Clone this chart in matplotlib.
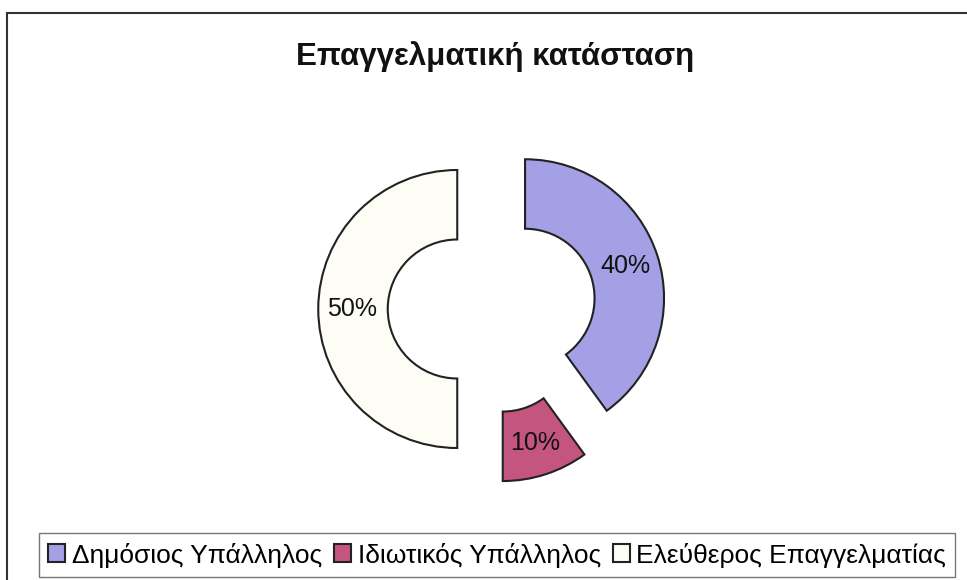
import matplotlib
matplotlib.use("Agg")
import matplotlib.pyplot as plt
from matplotlib.patches import Rectangle

categories = ["Δημόσιος Υπάλληλος", "Ιδιωτικός Υπάλληλος", "Ελεύθερος Επαγγελματίας"]
shares = [40, 10, 50]
colors = ["#A3A0E6", "#C4557E", "#FDFDF6"]
title = "Επαγγελματική κατάσταση"

plt.rcParams['font.family'] = ['Liberation Sans', 'DejaVu Sans']

W, H = 967, 580
fig = plt.figure(figsize=(W / 100, H / 100), dpi=100)
fig.patch.set_facecolor("white")

# outer chart frame (right/bottom edges fall off the picture)
fig.patches.append(Rectangle((7 / W, -0.05), 1.1, 1 - 13 / H + 0.05,
                             transform=fig.transFigure, fill=False,
                             edgecolor="#333333", linewidth=1.5))

# donut: center ~ (492, 309) px, radius ~139 px
r = 139
half = 1.5 * r
cx, cy = 492, 309
ax = fig.add_axes([(cx - half) / W, (H - cy - half) / H, 2 * half / W, 2 * half / H])
wedges, texts, autotexts = ax.pie(
    shares, colors=colors, startangle=90, counterclock=False,
    explode=[0.25, 0.25, 0.25], autopct="%d%%", pctdistance=0.76,
    wedgeprops=dict(width=0.5, edgecolor="#222222", linewidth=1.5),
    textprops=dict(fontsize=18, color="#111111"))
ax.set_xlim(-1.5, 1.5)
ax.set_ylim(-1.5, 1.5)
ax.set_aspect("equal")
ax.axis("off")

fig.text(495 / W, 1 - 57 / H, title, ha="center", va="center",
         fontsize=22.5, fontweight="bold", color="#111111")

leg = fig.legend(wedges, categories, loc="center", ncol=3,
                 bbox_to_anchor=(497 / W, 1 - 555 / H), fontsize=19,
                 frameon=True, fancybox=False, edgecolor="#555555",
                 handlelength=0.65, handleheight=0.65, handletextpad=0.25,
                 columnspacing=0.45, borderpad=0.35, borderaxespad=0)
leg.get_frame().set_linewidth(1.0)

fig.savefig("out.png", dpi=100)
